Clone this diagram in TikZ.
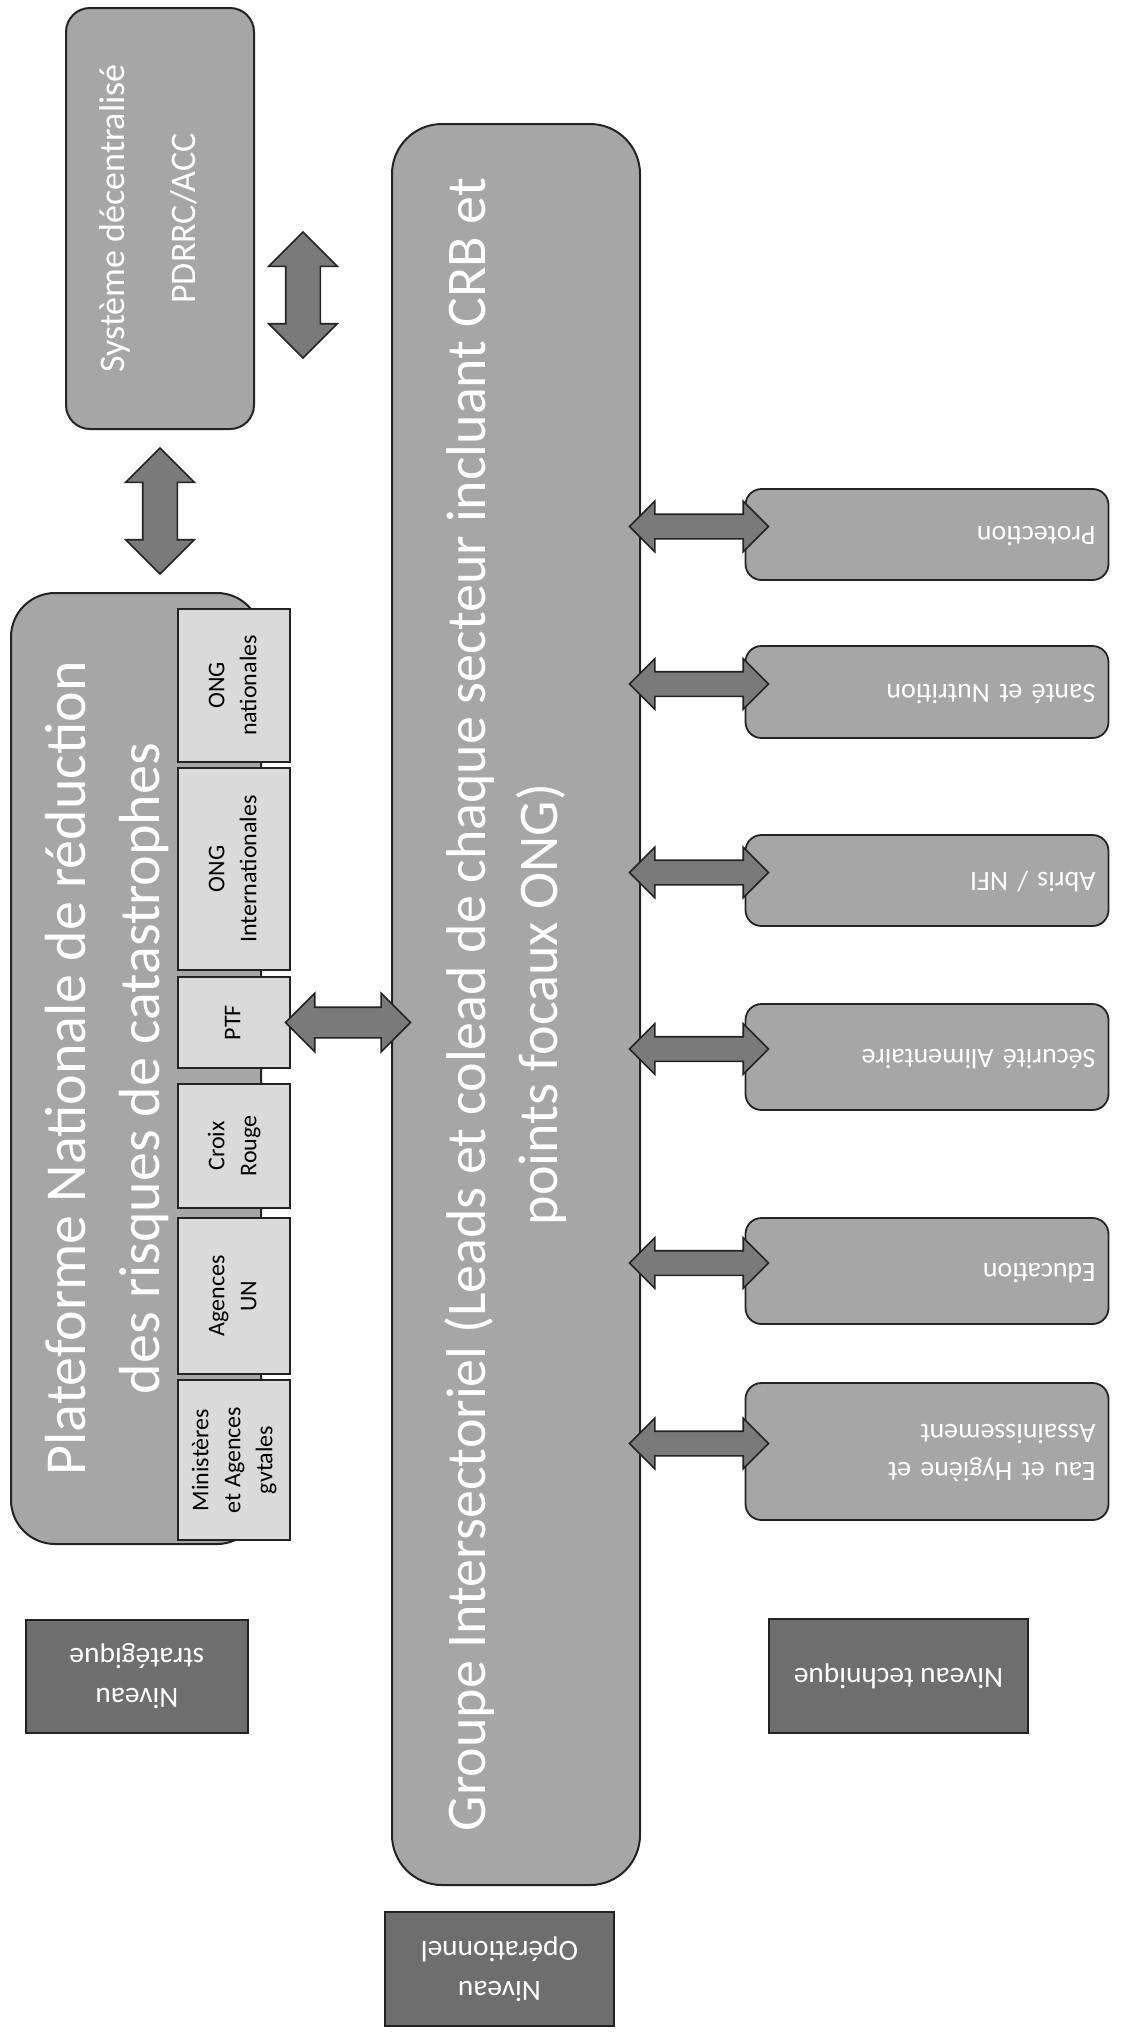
\documentclass[tikz,border=0pt]{standalone}
\usepackage{fontspec}
\setmainfont{Carlito}
\usepackage{graphicx}
\usetikzlibrary{shapes.arrows}

\definecolor{grisbloc}{RGB}{166,166,166}
\definecolor{grisclair}{RGB}{218,218,218}
\definecolor{grisfonce}{RGB}{110,110,110}
\definecolor{grisfleche}{RGB}{122,122,122}
\definecolor{trait}{RGB}{35,35,35}

% texte tourne (lecture de bas en haut, ou a l'envers)
\newcommand{\enhaut}[1]{\rotatebox{90}{\begin{tabular}{@{}c@{}}#1\end{tabular}}}
\newcommand{\renverse}[1]{\rotatebox{180}{\begin{tabular}{@{}l@{}}#1\end{tabular}}}
\newcommand{\renversec}[1]{\rotatebox{180}{\begin{tabular}{@{}c@{}}#1\end{tabular}}}

\begin{document}
\begin{tikzpicture}[x=0.5pt, y=-0.5pt,
        bloc/.style={rectangle, draw=trait, line width=1pt, fill=grisbloc, text=white, inner sep=0pt},
        membre/.style={rectangle, draw=trait, line width=0.8pt, fill=grisclair, text=black, inner sep=0pt, minimum width=56pt, font=\fontsize{12}{16}\selectfont},
        secteur/.style={rectangle, rounded corners=8pt, draw=trait, line width=0.9pt, fill=grisbloc, text=white, inner xsep=6.5pt, inner ysep=0pt, minimum width=181.5pt, text width=168.5pt, align=right, font=\fontsize{14}{19}\selectfont},
        niveau/.style={rectangle, draw=trait, line width=1pt, fill=grisfonce, text=white, inner sep=0pt, font=\fontsize{14.7}{20}\selectfont},
        fleche/.style={double arrow, draw=trait, line width=0.8pt, fill=grisfleche, inner xsep=0pt, double arrow tip angle=90},
        flechegrande/.style={fleche, inner ysep=8.25pt, double arrow head extend=8.5pt, minimum height=63pt},
        flecheptf/.style={fleche, inner ysep=7.25pt, double arrow head extend=7pt, minimum height=62.5pt},
        flechesect/.style={fleche, inner ysep=5.75pt, double arrow head extend=6.5pt, minimum height=69.5pt}]
    \path[use as bounding box, fill=white] (0,0) rectangle (1120,2036);

    % niveau strategique
    \node[bloc, rounded corners=12pt, minimum width=94pt, minimum height=210.5pt, font=\fontsize{18}{35.5}\selectfont] (sys) at (160,218.5) {\enhaut{Système décentralisé\\PDRRC/ACC\\[14pt]}};
    \node[bloc, rounded corners=22pt, minimum width=125pt, minimum height=475.5pt, font=\fontsize{29}{37}\selectfont] (plat) at (136,1068.5) {\enhaut{Plateforme Nationale de réduction\\des risques de catastrophes\\[28pt]}};
    \node[membre, minimum height=76.5pt] (ongnat) at (234,685.5) {\enhaut{ONG\\nationales}};
    \node[membre, minimum height=101pt] (ongint) at (234,869) {\enhaut{ONG\\Internationales}};
    \node[membre, minimum height=45.5pt] (ptf) at (234,1022.5) {\enhaut{PTF}};
    \node[membre, minimum height=62pt] (croix) at (234,1146) {\enhaut{Croix\\Rouge}};
    \node[membre, minimum height=78pt] (agences) at (234,1296) {\enhaut{Agences\\UN}};
    \node[membre, minimum height=80pt] (minis) at (234,1460) {\enhaut{Ministères\\et Agences\\gvtales}};

    % niveau operationnel
    \node[bloc, rounded corners=25pt, minimum width=124pt, minimum height=880.5pt, font=\fontsize{28}{36}\selectfont] (grp) at (516,1004.5) {\enhaut{Groupe Intersectoriel (Leads et colead de chaque secteur incluant CRB et\\points focaux ONG)\\[9pt]}};

    % niveau technique
    \node[secteur, minimum height=45.5pt] (prot) at (927,534.5) {\renverse{Protection}};
    \node[secteur, minimum height=46pt] (sante) at (927,692) {\renverse{Santé et Nutrition}};
    \node[secteur, minimum height=45.5pt] (abris) at (927,880.5) {\renverse{Abris / NFI}};
    \node[secteur, minimum height=53pt] (secu) at (927,1057) {\renverse{Sécurité Alimentaire}};
    \node[secteur, minimum height=53pt] (educ) at (927,1271) {\renverse{Education}};
    \node[secteur, minimum height=68.5pt] (eau) at (927,1451.5) {\renverse{Eau et Hygiène et\\Assainissement}};

    % etiquettes des niveaux
    \node[niveau, minimum width=111pt, minimum height=56.5pt] (nivstrat) at (137,1676.5) {\renversec{Niveau\\stratégique}};
    \node[niveau, minimum width=129.5pt, minimum height=57pt] (nivtech) at (898.5,1676) {\renversec{Niveau technique}};
    \node[niveau, minimum width=114.5pt, minimum height=57pt] (nivop) at (499.5,1969) {\renversec{Niveau\\Opérationnel}};

    % fleches doubles
    \node[flechegrande, rotate=90] (flsysgrp) at (303,295) {};
    \path (sys.south) -- node[flechegrande, rotate=90] (flsysplat) {} (plat.north -| sys.south);
    \path (ptf.east) -- node[flecheptf, pos=0.57] (flptf) {} (grp.west |- ptf.east);
    \foreach \s in {prot, sante, abris, secu, educ, eau}
        \path (grp.east |- \s.west) -- node[flechesect, pos=0.56, yshift=4pt] (fl\s) {} (\s.west);
\end{tikzpicture}
\end{document}
